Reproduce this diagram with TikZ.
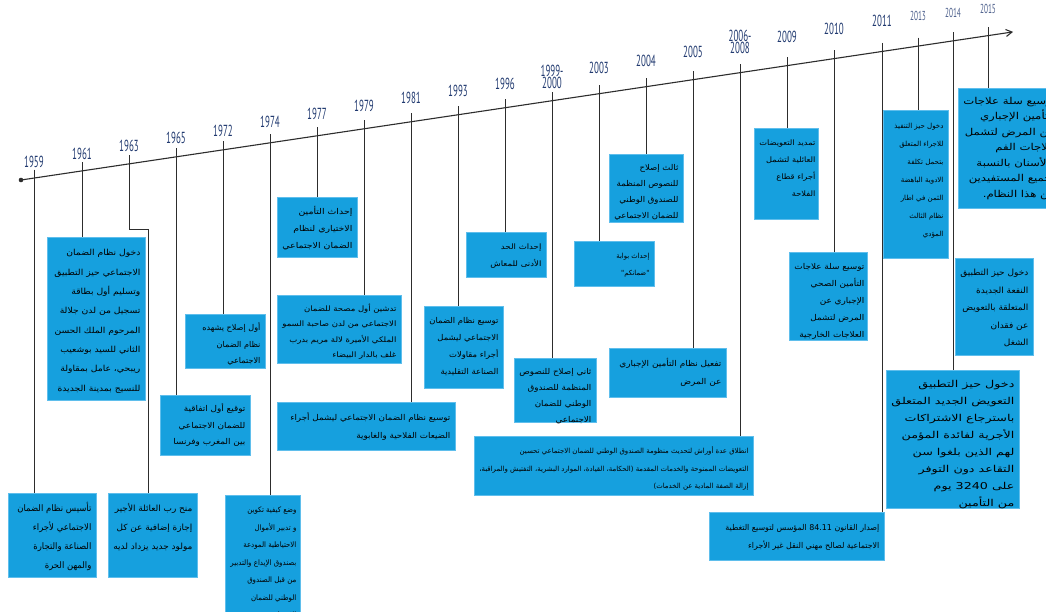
\documentclass[tikz,border=0pt]{standalone}
\usepackage{fontspec}
\usepackage{graphicx}
\usetikzlibrary{arrows.meta}
\newfontfamily\arabicfont[Script=Arabic]{DejaVu Sans}
\newfontfamily\yearfont[FakeStretch=0.56]{PT Sans}
\TeXXeTstate=1
\definecolor{boxblue}{RGB}{22,160,222}
\definecolor{boxedge}{RGB}{95,190,236}
\definecolor{yearblue}{RGB}{33,58,112}
\definecolor{linegray}{RGB}{45,45,45}
\newcommand\R[1]{\mbox{\beginR #1\endR}}
% [line skip]{font size}{box width}{box height}{text width}{lines}
\newcommand\evtext[6][17.5]{\parbox[c][#4pt][t]{#3pt}{\raggedleft\fontsize{#2}{#1}\selectfont
  \resizebox{#5pt}{\height}{\begin{tabular}[t]{@{}r@{}}#6\end{tabular}}}}

\begin{document}
\begin{tikzpicture}[x=1pt, y=-1pt,
    evt/.style={rectangle, fill=boxblue, draw=boxedge, line width=0.8pt, anchor=north west, inner sep=5pt, font=\arabicfont},
    yearlbl/.style={font=\yearfont\fontsize{16}{12}\selectfont, text=yearblue, inner sep=0pt, align=center},
    tick/.style={draw=linegray, line width=0.8pt},
    timeline/.style={draw=linegray, line width=1.1pt, -{Straight Barb[length=6pt, width=7pt]}}
  ]
    \fill[white] (0,0) rectangle (1046,611);
    \useasboundingbox (0,0) rectangle (1046,611);
    \clip (0,0) rectangle (1046,611);

    % timeline
    \coordinate (start) at (21,180);
    \coordinate (end) at (1013,31.9);
    \draw[timeline] (start) -- (end);
    \fill[linegray] (start) circle (2.3);

    % years and tick tops
    \foreach \yr/\x/\y in {1959/34/162, 1961/82/154, 1963/129/146, 1965/176/138, 1972/223/131,
        1974/270/122, 1977/317/114, 1979/364/106, 1981/411/98, 1993/458/91, 1996/505/84,
        2003/599/68, 2004/646/61, 2005/693/52, 2009/787/37, 2010/834/29, 2011/882/21}{
      \node[yearlbl] (y\yr) at (\x,\y) {\yr};
      \coordinate (t\yr) at (\x,{180-0.1493*(\x-21)-8.5});
    }
    \foreach \yr/\x/\y in {2013/918/16, 2014/953/13, 2015/988/9}{
      \node[yearlbl, font=\yearfont\fontsize{13}{10}\selectfont, text=yearblue!80] (y\yr) at (\x,\y) {\yr};
      \coordinate (t\yr) at (\x,{180-0.1493*(\x-21)-8.5});
    }
    \node[yearlbl] (y2000) at (552,77) {1999-\\2000};
    \coordinate (t2000) at (552,{180-0.1493*(552-21)-8.5});
    \node[yearlbl] (y2008) at (740,42) {2006-\\2008};
    \coordinate (t2008) at (740,{180-0.1493*(740-21)-8.5});

    % events
    \node[evt] (b1959) at (8,493) {\evtext[19]{9}{78}{74}{74}{\R{تأسيس نظام الضمان}\\\R{الاجتماعي لأجراء}\\\R{الصناعة والتجارة}\\\R{والمهن الحرة}}};
    \node[evt] (b1961) at (47,237) {\evtext[19.3]{8.3}{88}{153}{86}{\R{دخول نظام الضمان}\\\R{الاجتماعي حيز التطبيق}\\\R{وتسليم أول بطاقة}\\\R{تسجيل من لدن جلالة}\\\R{المرحوم الملك الحسن}\\\R{الثاني للسيد بوشعيب}\\\R{ريبحي، عامل بمقاولة}\\\R{للنسيج بمدينة الجديدة}}};
    \node[evt] (b1963) at (108,493) {\evtext[19]{8.5}{79}{74}{79}{\R{منح رب العائلة الأجير}\\\R{إجازة إضافية عن كل}\\\R{مولود جديد يزداد لديه}}};
    \node[evt] (b1965) at (160,395) {\evtext[16.5]{8}{80}{50}{72}{\R{توقيع أول اتفاقية}\\\R{للضمان الاجتماعي}\\\R{بين المغرب وفرنسا}}};
    \node[evt] (b1972) at (185,314) {\evtext[16.5]{8}{70}{44}{58}{\R{أول إصلاح يشهده}\\\R{نظام الضمان}\\\R{الاجتماعي}}};
    \node[evt] (b1974) at (225,495) {\evtext[17.5]{7.5}{65}{115}{66}{\R{وضع كيفية تكوين}\\\R{و تدبير الأموال}\\\R{الاحتياطية المودعة}\\\R{بصندوق الإيداع والتدبير}\\\R{من قبل الصندوق}\\\R{الوطني للضمان}\\\R{الاجتماعي}}};
    \node[evt] (b1977) at (277,197) {\evtext[17]{8}{70}{50}{70}{\R{إحداث التأمين}\\\R{الاختياري لنظام}\\\R{الضمان الاجتماعي}}};
    \node[evt] (b1979) at (277,295) {\evtext[15.5]{7.5}{114}{58}{114}{\R{تدشين أول مصحة للضمان}\\\R{الاجتماعي من لدن صاحبة السمو}\\\R{الملكي الأميرة لالة مريم بدرب}\\\R{غلف بالدار البيضاء}}};
    \node[evt] (b1981) at (277,402) {\evtext[18]{8}{168}{38}{160}{\R{توسيع نظام الضمان الاجتماعي ليشمل أجراء}\\\R{الضيعات الفلاحية والغابوية}}};
    \node[evt] (b1993) at (424,306) {\evtext[17]{8}{69}{72}{69}{\R{توسيع نظام الضمان}\\\R{الاجتماعي ليشمل}\\\R{أجراء مقاولات}\\\R{الصناعة التقليدية}}};
    \node[evt] (b1996) at (466,232) {\evtext[17]{7.5}{70}{35}{51}{\R{إحداث الحد}\\\R{الأدنى للمعاش}}};
    \node[evt] (b2000) at (514,358) {\evtext[16]{8}{72}{54}{72}{\R{ثاني إصلاح للنصوص}\\\R{المنظمة للصندوق}\\\R{الوطني للضمان}\\\R{الاجتماعي}}};
    \node[evt] (b2003) at (574,241) {\evtext[17]{7}{70}{35}{33}{\R{إحداث بوابة}\\\R{"ضمانكم"}}};
    \node[evt] (b2004) at (609,154) {\evtext[16]{8}{64}{58}{64}{\R{ثالث إصلاح}\\\R{للنصوص المنظمة}\\\R{للصندوق الوطني}\\\R{للضمان الاجتماعي}}};
    \node[evt] (b2005) at (609,348) {\evtext[18]{8}{107}{39}{102}{\R{تفعيل نظام التأمين الإجباري}\\\R{عن المرض}}};
    \node[evt] (b2008) at (474,436) {\evtext[17.5]{7}{269}{49}{269}{\R{انطلاق عدة أوراش لتحديث منظومة الصندوق الوطني للضمان الاجتماعي تحسين}\\\R{التعويضات الممنوحة والخدمات المقدمة (الحكامة، القيادة، الموارد البشرية، التفتيش والمراقبة،}\\\R{إزالة الصفة المادية عن الخدمات)}}};
    \node[evt] (b2009) at (754,128) {\evtext[17]{7.5}{54}{81}{56}{\R{تمديد التعويضات}\\\R{العائلية لتشمل}\\\R{أجراء قطاع}\\\R{الفلاحة}}};
    \node[evt] (b2010) at (789,252) {\evtext[17]{8}{68}{78}{70}{\R{توسيع سلة علاجات}\\\R{التأمين الصحي}\\\R{الإجباري عن}\\\R{المرض لتشمل}\\\R{العلاجات الخارجية}}};
    \node[evt] (b2011) at (709,512) {\evtext[18]{8}{165}{38}{154}{\R{إصدار القانون \beginL84.11\endL{} المؤسس لتوسيع التغطية}\\\R{الاجتماعية لصالح مهني النقل غير الأجراء}}};
    \node[evt] (b2013) at (883,110) {\evtext[18]{7}{55}{138}{49}{\R{دخول حيز التنفيذ}\\\R{للاجراء المتعلق}\\\R{بتحمل تكلفة}\\\R{الادوية الباهضة}\\\R{الثمن في اطار}\\\R{نظام الثالث}\\\R{المؤدي}}};
    \node[evt] (b2014) at (955,258) {\evtext[17.5]{8.5}{68}{87}{68}{\R{دخول حيز التطبيق}\\\R{النفعة الجديدة}\\\R{المتعلقة بالتعويض}\\\R{عن فقدان}\\\R{الشغل}}};
    \node[evt] (b2014b) at (886,370) {\evtext[17]{9.5}{123}{128}{123}{\R{دخول حيز التطبيق}\\\R{التعويض الجديد المتعلق}\\\R{باسترجاع الاشتراكات}\\\R{الأجرية لفائدة المؤمن}\\\R{لهم الذين بلغوا سن}\\\R{التقاعد دون التوفر}\\\R{على \beginL3240\endL{} يوم}\\\R{من التأمين}}};
    \node[evt] (b2015) at (958,88) {\evtext[15.5]{9.5}{92}{110}{92}{\R{توسيع سلة علاجات}\\\R{التأمين الإجباري}\\\R{عن المرض لتشمل}\\\R{علاجات الفم}\\\R{والأسنان بالنسبة}\\\R{لجميع المستفيدين}\\\R{من هذا النظام.}}};

    % ticks
    \foreach \yr in {1959,1961,1965,1972,1974,1977,1979,1981,1993,1996,2000,2003,2004,2005,2008,2009,2010,2011,2013,2015}
      \draw[tick] (t\yr) -- (t\yr |- b\yr.north);
    \draw[tick] (t1963) -- (t1963 |- 0,229) -| (148,0 |- b1963.north);
    \draw[tick] (t2014) -- (t2014 |- b2014b.north);
  \end{tikzpicture}
\end{document}
